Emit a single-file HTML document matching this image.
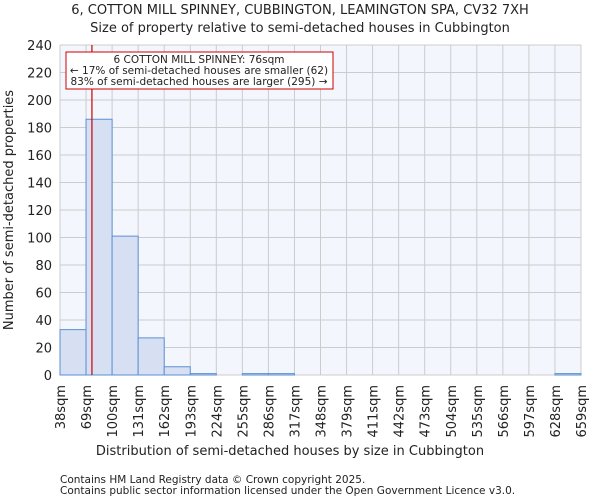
<!DOCTYPE html>
<html><head><meta charset="utf-8"><style>
body{margin:0;background:#fff;font-family:"DejaVu Sans","Liberation Sans",sans-serif}
svg text{font-family:"DejaVu Sans","Liberation Sans",sans-serif;fill:#222}
</style></head><body>
<svg id="c" width="600" height="500" xmlns="http://www.w3.org/2000/svg">
<text x="300" y="14" text-anchor="middle" font-size="13">6, COTTON MILL SPINNEY, CUBBINGTON, LEAMINGTON SPA, CV32 7XH</text>
<text x="300" y="32" text-anchor="middle" font-size="13">Size of property relative to semi-detached houses in Cubbington</text>
<rect x="60" y="45" width="521" height="330" fill="#f3f6fd"/>
<g id="grid"></g><g id="bars"></g><g id="axes"></g>
<text x="290" y="455" text-anchor="middle" font-size="13">Distribution of semi-detached houses by size in Cubbington</text>
<text transform="translate(13,210) rotate(-90)" text-anchor="middle" font-size="13">Number of semi-detached properties</text>
<text x="60" y="483" font-size="10.5">Contains HM Land Registry data © Crown copyright 2025.</text>
<text x="60" y="494" font-size="10.5">Contains public sector information licensed under the Open Government Licence v3.0.</text>
</svg>
<script>
const binLabels=["38sqm","69sqm","100sqm","131sqm","162sqm","193sqm","224sqm","255sqm","286sqm","317sqm","348sqm","379sqm","411sqm","442sqm","473sqm","504sqm","535sqm","566sqm","597sqm","628sqm","659sqm"];
const binEdges=[38,69,100,131,162,193,224,255,286,317,348,379,411,442,473,504,535,566,597,628,659];
const counts=[33,186,101,27,6,1,0,1,1,0,0,0,0,0,0,0,0,0,0,1];
const yTicks=[0,20,40,60,80,100,120,140,160,180,200,220,240];
const propertySize=76;
const NS="http://www.w3.org/2000/svg";
const X0=60,X1=581,Y0=375,Y1=45,n=binLabels.length-1;
const xi=i=>X0+(X1-X0)*i/n;
const xv=v=>{for(let i=0;i<n;i++){if(v<=binEdges[i+1])return xi(i)+(v-binEdges[i])/(binEdges[i+1]-binEdges[i])*(xi(i+1)-xi(i));}return X1;};
const y=v=>Y0-(Y0-Y1)*v/240;
function mk(t,a,p){const e=document.createElementNS(NS,t);for(const k in a)e.setAttribute(k,a[k]);p.appendChild(e);return e;}
const g=document.getElementById('grid'),b=document.getElementById('bars'),ax=document.getElementById('axes');
yTicks.forEach(t=>{const l=mk('line',{x1:X0,x2:X1,y1:y(t),y2:y(t),stroke:'#ccc','stroke-width':1},g);


const tx=mk('text',{x:X0-8,y:y(t)+5,'text-anchor':'end','font-size':13},ax);tx.textContent=t;

});
binLabels.forEach((s,i)=>{const l=mk('line',{x1:xi(i),x2:xi(i),y1:Y1,y2:Y0,stroke:'#ccc','stroke-width':1},g);


const tx=mk('text',{transform:`translate(${xi(i)+5},${Y0+10}) rotate(-90)`,'text-anchor':'end','font-size':13},ax);tx.textContent=s;

});
counts.forEach((c,i)=>{if(c<=0)return;const r=mk('rect',{x:xi(i),y:y(c),width:xi(i+1)-xi(i),height:Y0-y(c),fill:'#d6e0f2',stroke:'#5b8fd6','stroke-width':1},b);

});
const rl=mk('line',{x1:xv(propertySize),x2:xv(propertySize),y1:Y1,y2:Y0,stroke:'#cc0000','stroke-width':1.2},ax);


const box=mk('rect',{x:66,y:52,width:267,height:37,fill:'#fff',stroke:'#cc0000','stroke-width':1},ax);


["6 COTTON MILL SPINNEY: 76sqm","← 17% of semi-detached houses are smaller (62)","83% of semi-detached houses are larger (295) →"].forEach((s,i)=>{const t=mk('text',{x:199,y:63+i*11,'text-anchor':'middle','font-size':10.5},ax);t.textContent=s;

});
</script>
</body></html>
